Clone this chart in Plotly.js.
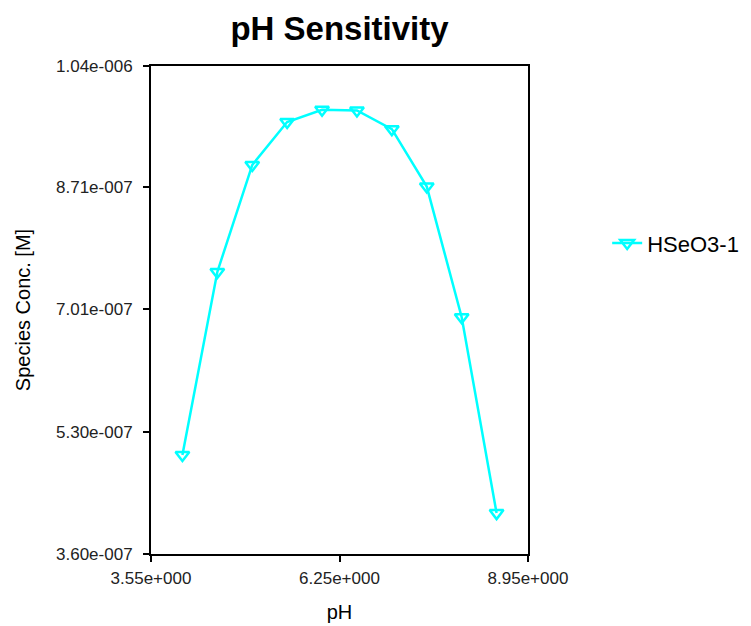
<!DOCTYPE html>
<html>
<head>
<meta charset="utf-8">
<script src="https://cdn.plot.ly/plotly-3.0.1.min.js"></script>
<style>html,body{margin:0;padding:0;background:#fff;}#chart{width:751px;height:626px;}</style>
</head>
<body>
<div id="chart"></div>
<script>
const pH = [4.0, 4.5, 5.0, 5.5, 6.0, 6.5, 7.0, 7.5, 8.0, 8.5];
const hseo3 = [4.98e-7, 7.53e-7, 9.02e-7, 9.62e-7, 9.79e-7, 9.78e-7, 9.52e-7, 8.72e-7, 6.90e-7, 4.17e-7];
const seriesName = 'HSeO3-1';
const xTickVals = [3.55, 6.25, 8.95];
const xTickText = ['3.55e+000', '6.25e+000', '8.95e+000'];
const yTickVals = [3.60e-7, 5.30e-7, 7.01e-7, 8.71e-7, 1.04e-6];
const yTickText = ['3.60e-007', '5.30e-007', '7.01e-007', '8.71e-007', '1.04e-006'];

const font = 'Arial, "Liberation Sans", sans-serif';
const trace = {
  x: pH, y: hseo3, name: seriesName, type: 'scatter', mode: 'lines+markers',
  line: {color: '#00FFFF', width: 2.5},
  marker: {symbol: 'triangle-down-open', size: 12, color: '#00FFFF', line: {color: '#00FFFF', width: 2.5}}
};
const layout = {
  width: 751, height: 626,
  margin: {l: 151, r: 223, t: 66, b: 72, autoexpand: false},
  paper_bgcolor: '#fff', plot_bgcolor: '#fff',
  font: {family: font, color: '#000'},
  title: {text: '<b>pH Sensitivity</b>', font: {size: 33, family: font}, x: 0.5, xref: 'paper', y: 0.954, yanchor: 'middle'},
  xaxis: {
    range: [3.55, 8.95], tickmode: 'array', tickvals: xTickVals, ticktext: xTickText,
    showgrid: false, zeroline: false, showline: true, linecolor: '#000', linewidth: 2, mirror: true,
    ticks: 'outside', ticklen: 6, tickwidth: 2, tickcolor: '#000', tickfont: {size: 17, color: '#222'},
    ticklabelstandoff: 2, automargin: false,
    title: {text: 'pH', font: {size: 20}, standoff: 18}
  },
  yaxis: {
    range: [3.60e-7, 1.04e-6], tickmode: 'array', tickvals: yTickVals, ticktext: yTickText,
    showgrid: false, zeroline: false, showline: true, linecolor: '#000', linewidth: 2, mirror: true,
    ticks: 'outside', ticklen: 6, tickwidth: 2, tickcolor: '#000', tickfont: {size: 17, color: '#222'},
    ticklabelstandoff: 7, automargin: false,
    title: {text: 'Species Conc. [M]', font: {size: 20}, standoff: 20}
  },
  showlegend: true,
  legend: {x: 1.21, xanchor: 'left', y: 0.637, yanchor: 'middle', font: {size: 22}, bgcolor: 'rgba(0,0,0,0)'}
};
Plotly.newPlot('chart', [trace], layout, {displayModeBar: false, staticPlot: true});
</script>
</body>
</html>
